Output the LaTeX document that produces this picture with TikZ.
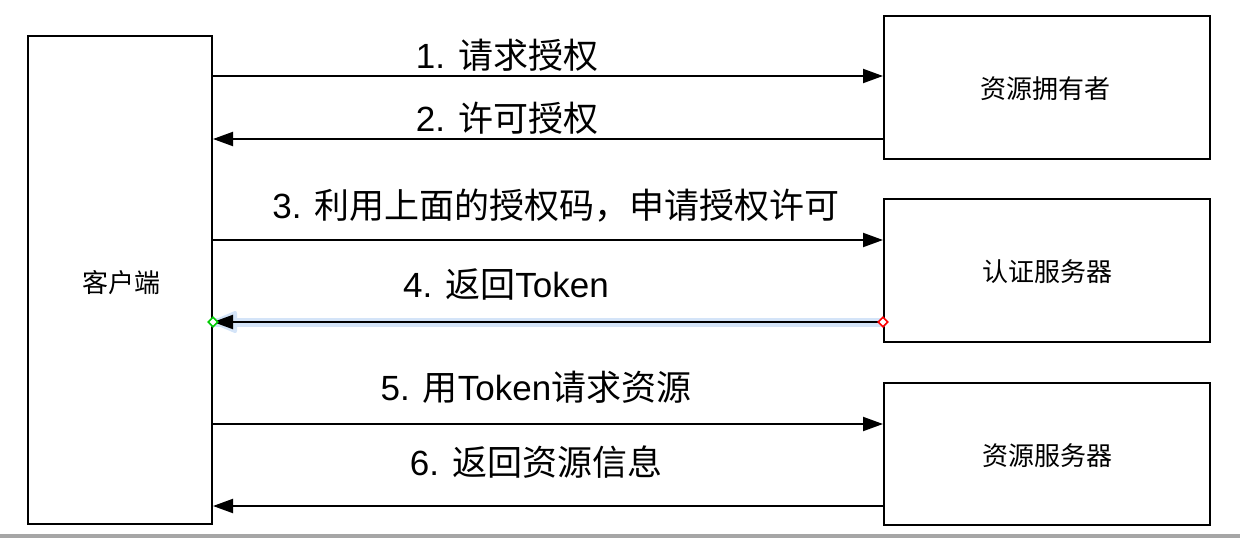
\documentclass[tikz,border=0pt]{standalone}
\usepackage{fontspec}
\setmainfont{Liberation Sans}
\newfontfamily\cjk{Noto Sans CJK SC}
\usetikzlibrary{arrows.meta,shapes.geometric}
\definecolor{glowblue}{RGB}{212,228,248}
\tikzset{
  boxtext/.style={font=\fontsize{26}{30}\selectfont\cjk},
  lbl/.style={font=\fontsize{35}{40}\selectfont, inner sep=0pt},
  arr/.style={line width=2pt, -{Triangle[length=20pt,width=14pt]}},
  glow/.style={line width=9pt, draw=glowblue, line cap=round},
  marker/.style={diamond, draw=#1, line width=1.6pt, fill=white, minimum size=10pt, inner sep=0pt}
}
\begin{document}
\begin{tikzpicture}[x=1pt,y=-1pt]
\useasboundingbox (0,0) rectangle (1240,538);
\fill[gray!70] (0,534) rectangle (1240,538);
% boxes
\node[draw, line width=2pt, minimum width=184pt, minimum height=488pt, inner sep=0pt] (client) at (120,280) {};
\node[draw, line width=2pt, minimum width=326pt, minimum height=143pt, inner sep=0pt] (owner) at (1047,87.5) {};
\node[draw, line width=2pt, minimum width=326pt, minimum height=143pt, inner sep=0pt] (auth) at (1047,270.5) {};
\node[draw, line width=2pt, minimum width=326pt, minimum height=142pt, inner sep=0pt] (res) at (1047,454) {};
\node[boxtext] (clienttxt) at (121,283) {客户端};
\node[boxtext] (ownertxt) at (1045,89) {资源拥有者};
\node[boxtext] (authtxt) at (1047,272) {认证服务器};
\node[boxtext] (restxt) at (1047,456) {资源服务器};
% glow for arrow 4
\draw[glow] (client.east |- 0,322) -- (auth.west |- 0,322);
\fill[glowblue, rounded corners=3pt] (209,322) -- (237,310) -- (237,334) -- cycle;
% arrows
\draw[arr] (client.east |- 0,76) -- (owner.west |- 0,76);
\draw[arr] (owner.west |- 0,139) -- (client.east |- 0,139);
\draw[arr] (client.east |- 0,240) -- (auth.west |- 0,240);
\draw[arr] (auth.west |- 0,322) -- (client.east |- 0,322);
\draw[arr] (client.east |- 0,424) -- (res.west |- 0,424);
\draw[arr] (res.west |- 0,506) -- (client.east |- 0,506);
\node[marker=green!80!black] (m1) at (client.east |- 0,322) {};
\node[marker=red] (m2) at (auth.west |- 0,322) {};
% labels
\node[lbl] (l1) at (507,55) {1. {\cjk 请求授权}};
\node[lbl] (l2) at (507,118) {2. {\cjk 许可授权}};
\node[lbl] (l3) at (556,206) {3. {\cjk 利用上面的授权码，申请授权许可}};
\node[lbl] (l4) at (506,284) {4. {\cjk 返回}Token};
\node[lbl] (l5) at (536,387) {5. {\cjk 用}Token{\cjk 请求资源}};
\node[lbl] (l6) at (536,462) {6. {\cjk 返回资源信息}};
\end{tikzpicture}
\end{document}
